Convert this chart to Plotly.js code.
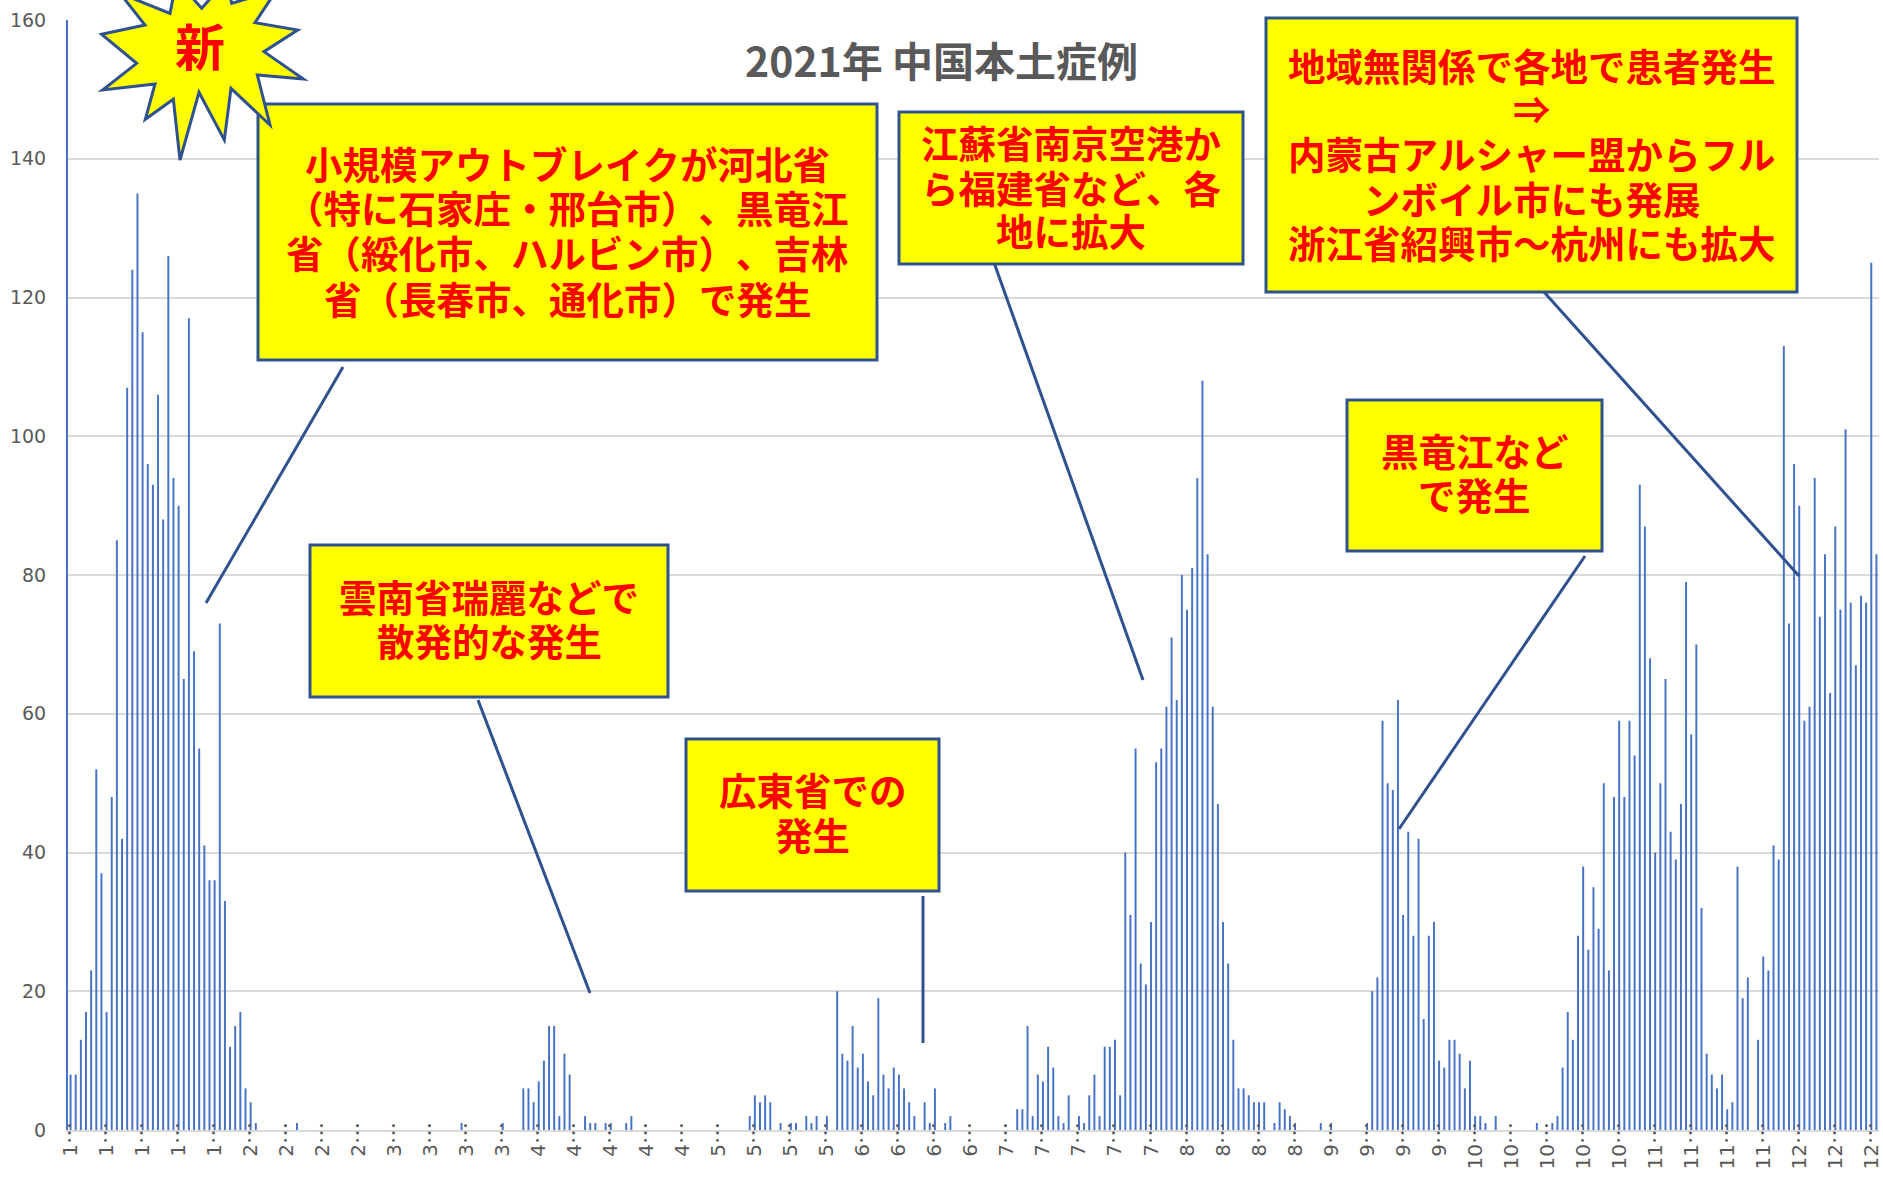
<!DOCTYPE html>
<html><head><meta charset="utf-8">
<script src="https://cdn.plot.ly/plotly-3.0.1.min.js"></script>
<style>html,body{margin:0;padding:0;background:#fff;overflow:hidden} text{text-spacing-trim:space-all;font-kerning:none}</style>
</head><body><div id="chart" style="width:1883px;height:1182px"></div>
<script>
const dailyCases = [
 8,8,13,17,23,52,37,17,48,85,42,107,124,135,115,96,93,106,88,126,94,90,65,117,69,55,41,36,36,73,33,12,15,17,6,4,1,
 0,0,0,0,0,0,0,1,
 0,0,0,0,0,0,0,0,0,0,0,0,0,0,0,0,0,0,0,0,0,0,0,0,0,0,0,0,0,0,0,1,
 0,0,0,0,0,0,0,1,0,0,0,
 6,6,4,7,10,15,15,2,11,8,0,0,
 2,1,1,0,1,1,0,0,1,2,
 0,0,0,0,0,0,0,0,0,0,0,0,0,0,0,0,0,0,0,0,0,0,
 2,5,4,5,4,0,1,0,1,1,0,2,1,2,0,2,0,
 20,11,10,15,9,11,7,5,19,8,6,9,8,6,4,2,0,4,1,6,0,1,2,
 0,0,0,0,0,0,0,0,0,0,0,0,
 3,3,15,2,8,7,12,9,2,1,5,0,
 2,1,5,8,2,12,12,13,5,40,31,55,24,21,30,53,55,61,71,62,80,75,81,94,108,83,61,47,30,24,13,6,6,5,4,4,4,0,1,4,3,2,1,
 0,0,0,0,1,0,1,0,0,0,0,0,0,1,
 20,22,59,50,49,62,31,43,28,42,16,28,30,10,9,13,13,11,6,10,2,2,1,0,2,
 0,0,0,0,0,0,0,1,0,0,1,2,
 9,17,13,28,38,26,35,29,50,23,48,59,48,59,54,93,87,68,40,50,65,43,39,47,79,57,70,32,11,8,6,8,3,4,38,19,22,-0.4,
 13,25,23,41,39,113,73,96,90,59,61,94,74,83,63,87,75,101,76,67,77,76,125,83
];
const weekMonths = [1,1,1,1,1,2,2,2,2,3,3,3,3,4,4,4,4,4,5,5,5,5,6,6,6,6,7,7,7,7,7,8,8,8,8,9,9,9,9,10,10,10,10,10,11,11,11,11,12,12,12];
const chartTitle = "2021年 中国本土症例";
const callouts = [
 {box:[258,104,877,360], lines:["小規模アウトブレイクが河北省","（特に石家庄・邢台市）、黒竜江","省（綏化市、ハルビン市）、吉林","省（長春市、通化市）で発生"], ys:[162,207,252,297], leader:[343,367,206,603]},
 {box:[310,545,668,697], lines:["雲南省瑞麗などで","散発的な発生"], ys:[595,639], leader:[478,700,590,993]},
 {box:[686,739,939,891], lines:["広東省での","発生"], ys:[788,833], leader:[923,896,923,1043]},
 {box:[899,112,1243,264], lines:["江蘇省南京空港か","ら福建省など、各","地に拡大"], ys:[141,186,230], leader:[992,257,1143,680]},
 {box:[1266,18,1797,292], lines:["地域無関係で各地で患者発生","⇒","内蒙古アルシャー盟からフル","ンボイル市にも発展","浙江省紹興市～杭州にも拡大"], ys:[64,108,152,197,242], leader:[1544,292,1799,576]},
 {box:[1347,400,1602,551], lines:["黒竜江など","で発生"], ys:[449,494], leader:[1585,556,1399,829]}
];
const starOutline = [[305,103],[435,75],[360,-20],[510,40],[530,-60],[605,25],[680,-60],[695,10],[830,-30],[765,68],[893,90],[792,155],[910,237],[772,225],[810,375],[693,265],[673,420],[597,277],[540,480],[520,298],[436,358],[465,252],[308,270],[410,190]];

const W=1883,H=1182,L=68,R=1879,T=20,B=1130;
const px=x=>(x-L)/(R-L), py=y=>(B-y)/(B-T);
const border="#2F528F", yellow="#FFFF00", red="#FF0000";
const cjk='"Noto Sans CJK JP","Noto Sans",sans-serif';
const shapes=[], annotations=[];
callouts.forEach(c=>{
  const [x0,y0,x1,y1]=c.box, [a,b,d,e]=c.leader;
  shapes.push({type:'line',xref:'paper',yref:'paper',x0:px(a),y0:py(b),x1:px(d),y1:py(e),line:{color:border,width:3},layer:'above'});
  shapes.push({type:'rect',xref:'paper',yref:'paper',x0:px(x0),y0:py(y0),x1:px(x1),y1:py(y1),fillcolor:yellow,line:{color:border,width:3},layer:'above'});
  c.lines.forEach((t,i)=>annotations.push({xref:'paper',yref:'paper',x:px((x0+x1)/2),y:py(c.ys[i]),text:'<b>'+t+'</b>',showarrow:false,xanchor:'center',yanchor:'middle',font:{family:cjk,size:37.5,color:red}}));
});
const starPath=starOutline.map((p,i)=>(i?'L':'M')+px(p[0]/3)+' '+py(p[1]/3)).join(' ')+' Z';
shapes.push({type:'path',xref:'paper',yref:'paper',path:starPath,fillcolor:yellow,line:{color:border,width:3},layer:'above'});
annotations.push({xref:'paper',yref:'paper',x:px(200),y:py(44),text:'<b>新</b>',showarrow:false,xanchor:'center',yanchor:'middle',font:{family:cjk,size:50,color:red}});
annotations.push({xref:'paper',yref:'paper',x:px(941),y:py(59),text:'<b>'+chartTitle+'</b>',showarrow:false,xanchor:'center',yanchor:'middle',font:{family:cjk,size:41,color:'#595959'}});

Plotly.newPlot('chart',[{
  type:'bar',x:dailyCases.map((_,i)=>i),y:dailyCases,width:0.38,
  marker:{color:'#4472C4',line:{width:0}},cliponaxis:false,hoverinfo:'skip'
}],{
  width:W,height:H,margin:{l:L,r:W-R,t:T,b:H-B,pad:0},
  paper_bgcolor:'#fff',plot_bgcolor:'#fff',showlegend:false,
  xaxis:{range:[-0.5,351.5],tickmode:'array',tickvals:weekMonths.map((_,i)=>i*7),
    ticktext:weekMonths.map(m=>m+'<span style="font-family:\'Noto Sans CJK JP\';font-size:22px">…</span>'),
    tickangle:-90,ticks:'',showgrid:false,zeroline:false,showline:true,linecolor:'#D9D9D9',linewidth:2,ticklabeloverflow:'allow',
    ticklabelstandoff:-18,automargin:false,tickfont:{family:'"DejaVu Sans",sans-serif',size:20,color:'#595959'}},
  yaxis:{range:[0,160],tick0:0,dtick:20,ticks:'',showgrid:true,gridcolor:'#D9D9D9',gridwidth:2,zeroline:false,
    showline:true,linecolor:'#4472C4',linewidth:2,ticklabelstandoff:16,automargin:false,
    tickfont:{family:'"DejaVu Sans",sans-serif',size:19,color:'#595959'}},
  shapes,annotations
},{displayModeBar:false,staticPlot:true});
</script></body></html>
